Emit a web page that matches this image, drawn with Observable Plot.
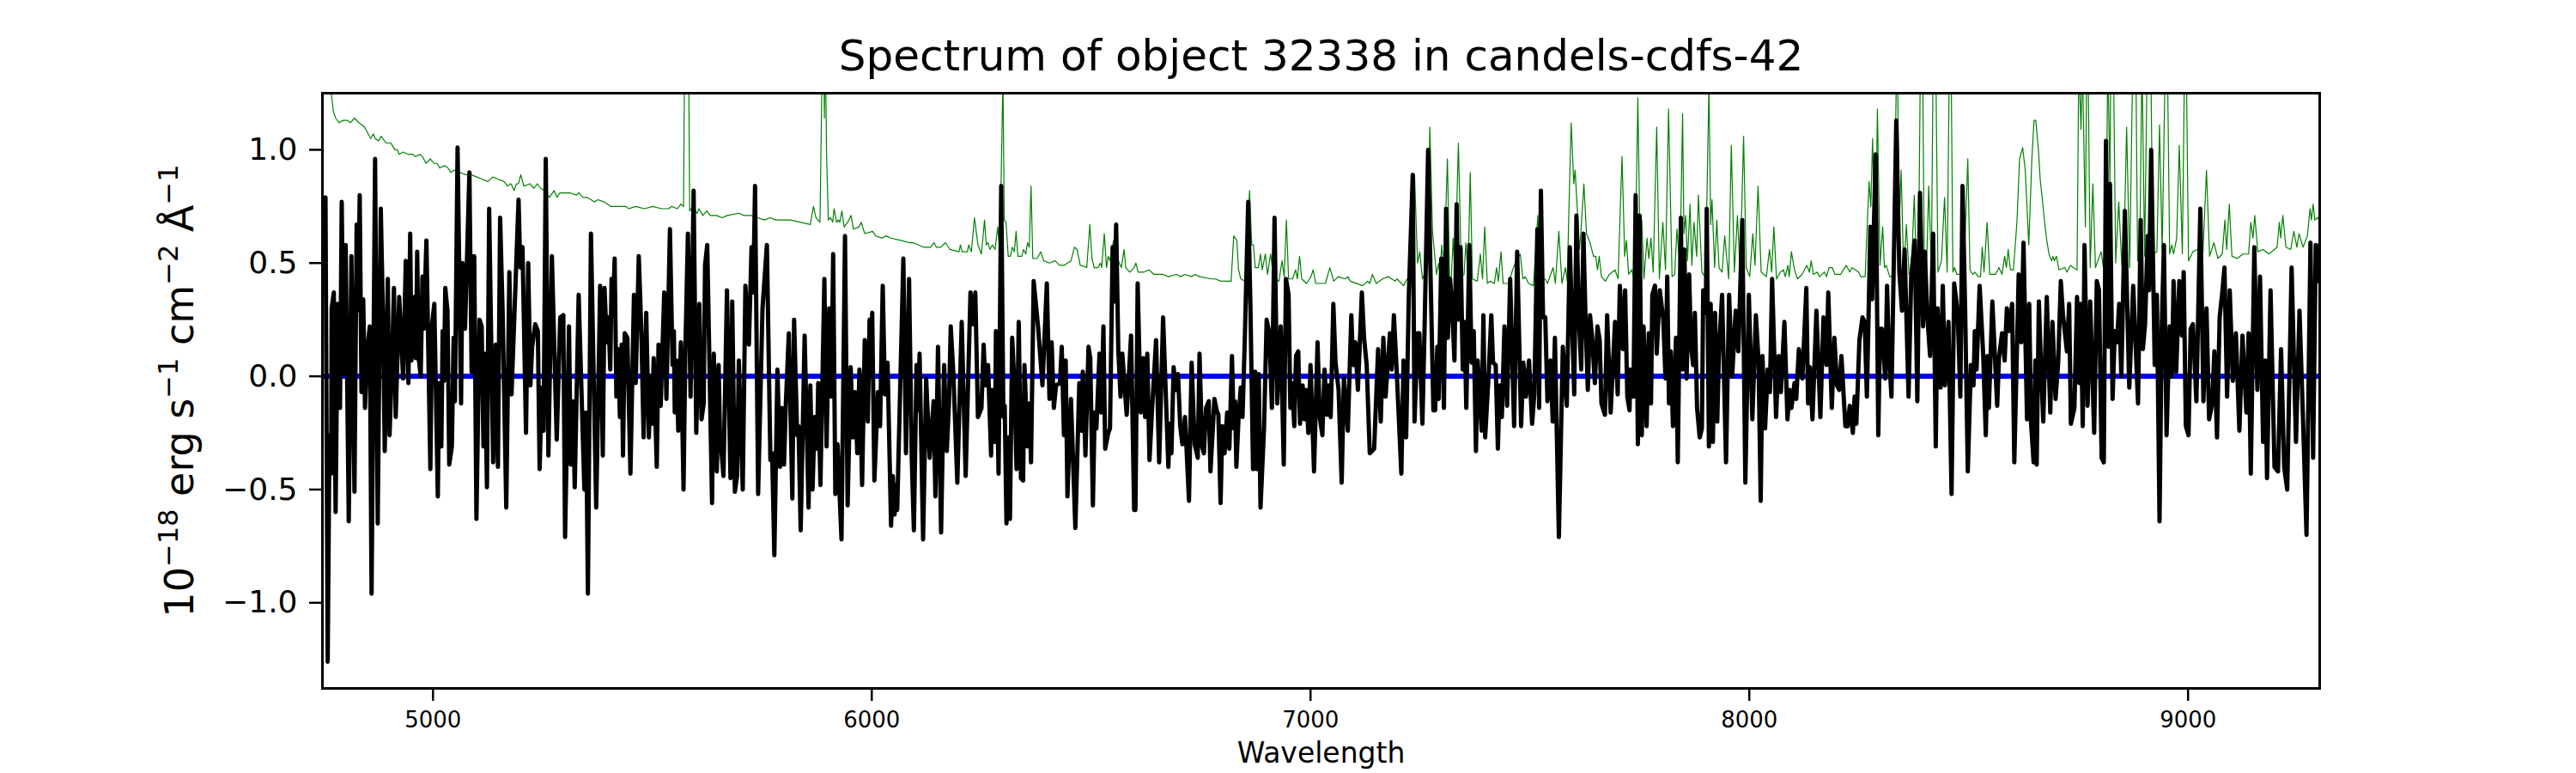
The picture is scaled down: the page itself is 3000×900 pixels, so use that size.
<!DOCTYPE html>
<html>
<head>
<meta charset="utf-8">
<script src="https://cdn.jsdelivr.net/npm/d3@7"></script>
<script src="https://cdn.jsdelivr.net/npm/@observablehq/plot@0.6"></script>
<style>
html,body{margin:0;padding:0;background:#fff}
svg{display:block}
</style>
</head>
<body>
<div id="chart"></div>
<script>
const titleText = "Spectrum of object 32338 in candels-cdfs-42";
const xLabel = "Wavelength";
const yLabelParts = [["10",0],["−18",1],[" erg s",0],["−1",1],[" cm",0],["−2",1],[" Å",0],["−1",1]];
const yLabel = yLabelParts.map(p => p[0]).join("");
const xTicks = [5000,6000,7000,8000,9000];
const yTicks = [-1,-0.5,0,0.5,1];
const modelLevel = [0];

// measured flux: [wavelength, flux]
const flux = [
[4748,.75],[4755,.79],[4760,-1.26],[4764,-.26],[4768,-.43],[4769,.30],[4774,.37],[4778,-.60],[4783,.32],[4788,-.14],[4792,.77],[4796,.01],[4801,.58],[4808,-.64],[4814,.53],[4821,-.51],[4826,.67],[4829,.29],[4833,.80],[4837,-.07],[4841,.34],[4845,-.14],[4850,.12],[4856,.22],[4860,-.96],[4868,.96],[4874,-.65],[4881,.74],[4886,.26],[4890,-.33],[4897,.43],[4901,-.26],[4906,.02],[4911,.39],[4915,-.18],[4923,.35],[4932,-.01],[4938,.51],[4944,-.03],[4948,.63],[4951,.07],[4957,.35],[4961,.08],[4964,.55],[4967,.09],[4972,0],[4976,.44],[4979,.21],[4985,.60],[4994,-.41],[4998,.23],[5003,.32],[5011,-.53],[5014,-.03],[5019,-.31],[5022,.20],[5025,-.02],[5028,.39],[5033,.29],[5037,-.39],[5043,-.31],[5047,.17],[5050,-.11],[5056,1.01],[5064,-.12],[5067,.50],[5073,.21],[5083,.90],[5088,.02],[5094,.53],[5099,-.63],[5106,.25],[5111,.22],[5115,-.31],[5118,.10],[5123,-.49],[5128,.74],[5137,-.38],[5143,.14],[5148,-.40],[5153,.70],[5159,.26],[5167,-.58],[5174,.46],[5179,-.08],[5195,.78],[5199,.48],[5204,.57],[5212,-.25],[5217,.50],[5222,-.04],[5226,.13],[5233,.23],[5239,.20],[5243,-.41],[5248,-.05],
[5252,-.24],[5257,.96],[5263,-.35],[5271,.53],[5282,-.28],[5290,.26],[5297,.27],[5301,-.71],[5310,.22],[5314,-.39],[5319,-.11],[5323,-.49],[5332,.36],[5345,-.50],[5349,-.16],[5353,-.96],[5360,.63],[5372,-.58],[5381,.40],[5387,-.35],[5391,.39],[5396,.15],[5400,.26],[5404,.03],[5407,.43],[5410,.27],[5414,.52],[5418,-.09],[5422,.12],[5426,-.18],[5430,.14],[5433,-.35],[5437,.19],[5443,.17],[5450,-.43],[5458,.36],[5462,-.03],[5469,.53],[5475,.19],[5480,-.27],[5486,.28],[5492,-.27],[5496,0],[5499,-.21],[5503,.08],[5510,-.40],[5514,.14],[5519,-.13],[5527,.37],[5532,-.10],[5540,.65],[5546,.05],[5549,.20],[5551,-.16],[5555,.07],[5559,-.24],[5565,.15],[5571,-.50],[5575,.10],[5581,.63],[5587,-.09],[5594,.82],[5600,-.25],[5607,.32],[5612,-.19],[5617,-.12],[5620,.49],[5625,.58],[5636,-.56],[5640,.10],[5647,-.42],[5651,.05],[5654,-.25],[5662,-.44],[5670,.38],[5678,-.45],[5682,.33],[5688,-.51],[5693,-.44],[5697,.07],[5706,-.50],[5712,.40],[5720,.14],[5726,.57],[5730,.37],[5734,.84],[5741,-.52],[5751,.30],
[5761,.58],[5769,-.37],[5773,-.34],[5778,-.79],[5785,.03],[5791,-.40],[5795,-.14],[5800,-.39],[5804,-.13],[5811,.19],[5819,-.54],[5823,.25],[5830,-.26],[5833,-.22],[5838,-.68],[5847,.18],[5856,-.58],[5860,-.04],[5865,-.50],[5870,-.18],[5875,-.32],[5878,-.03],[5883,-.48],[5892,.43],[5897,-.31],[5903,.30],[5908,-.09],[5912,.54],[5917,-.52],[5922,-.30],[5931,-.72],[5939,.62],[5945,-.57],[5952,.04],[5957,-.27],[5962,-.07],[5967,-.34],[5972,.03],[5978,-.48],[5984,.16],[5991,-.20],[5995,.25],[5999,.09],[6001,.28],[6006,-.46],[6014,-.07],[6019,-.22],[6025,.40],[6030,-.08],[6036,.06],[6044,-.66],[6048,-.44],[6052,-.61],[6056,-.48],[6058,-.59],[6072,.52],[6078,-.34],[6085,.43],[6091,-.35],[6096,-.68],[6102,.05],[6106,-.15],[6109,.10],[6117,-.72],[6124,-.01],[6132,-.36],[6141,-.11],[6145,-.53],[6151,.13],[6158,-.69],[6165,.05],[6171,-.33],[6176,-.12],[6180,.22],[6186,.01],[6195,-.47],[6205,.24],[6214,-.44],[6225,.37],[6231,.23],[6236,.37],[6242,-.18],[6250,-.14],[6255,.14],[6259,-.04],
[6265,.05],[6272,-.35],[6274,-.06],[6281,-.29],[6283,.20],[6289,-.43],[6295,.84],[6300,-.18],[6303,-.13],[6307,-.65],[6311,-.27],[6315,-.63],[6320,.17],[6325,-.03],[6330,-.41],[6335,.24],[6340,-.45],[6345,-.46],[6348,.05],[6355,-.31],[6359,-.12],[6363,-.38],[6369,.42],[6379,.22],[6389,-.04],[6399,.41],[6405,-.10],[6410,.15],[6415,-.14],[6420,-.04],[6429,-.03],[6433,.13],[6438,-.26],[6442,.07],[6446,-.53],[6454,-.10],[6464,-.67],[6473,-.03],[6478,-.24],[6481,.02],[6487,-.35],[6494,.13],[6498,.08],[6504,-.57],[6508,-.16],[6512,-.23],[6519,.10],[6523,-.16],[6528,.22],[6532,-.32],[6539,-.25],[6543,-.23],[6549,.57],[6553,.33],[6557,.67],[6562,.11],[6567,-.09],[6571,.10],[6581,-.17],[6591,.18],[6598,-.59],[6601,-.59],[6606,.41],[6613,-.16],[6619,.08],[6623,-.18],[6628,.10],[6633,-.37],[6639,-.14],[6648,.16],[6655,-.38],[6664,.26],[6676,-.40],[6679,-.21],[6683,-.34],[6688,.04],[6693,-.06],[6698,.01],[6703,-.22],[6708,-.30],[6714,-.18],[6723,-.55],[6729,.06],[6736,-.30],[6743,-.36],[6747,.10],[6753,-.31],[6757,-.34],[6762,-.14],[6768,-.11],[6772,-.42],
[6781,-.10],[6786,-.15],[6790,-.17],[6795,-.56],[6799,-.22],[6804,-.34],[6810,-.16],[6815,-.32],[6821,.09],[6825,-.23],[6828,-.11],[6831,-.40],[6836,-.18],[6841,-.05],[6845,-.18],[6850,.15],[6858,.77],[6863,.31],[6869,-.41],[6874,.02],[6877,-.41],[6882,.01],[6886,-.58],[6894,-.23],[6900,.25],[6906,.19],[6912,-.14],[6918,.70],[6924,-.12],[6932,.22],[6939,-.39],[6944,.43],[6950,.36],[6954,-.14],[6958,-.03],[6963,-.22],[6967,.09],[6972,.11],[6976,-.21],[6982,-.04],[6986,-.19],[6990,-.06],[6995,-.25],[7000,.05],[7008,-.42],[7016,.15],[7021,-.18],[7027,-.26],[7032,.03],[7037,-.17],[7041,-.04],[7046,-.18],[7052,.32],[7057,.06],[7064,-.06],[7071,-.47],[7076,-.01],[7085,-.24],[7093,.27],[7097,.05],[7102,.15],[7108,-.06],[7117,.37],[7122,.17],[7128,.05],[7135,-.34],[7145,-.32],[7154,.12],[7160,-.20],[7166,.17],[7171,-.09],[7181,.19],[7185,.03],[7190,.27],[7196,.04],[7207,-.43],[7212,.07],[7218,-.27],[7224,.36],[7233,.89],[7237,-.20],[7244,.19],[7248,.19],[7255,-.21],[7260,.22],[7268,1.00],[7273,.50],[7280,-.15],
[7284,-.15],[7289,.13],[7292,-.10],[7298,.52],[7304,-.14],[7309,.74],[7313,.17],[7318,.43],[7323,.30],[7328,.07],[7333,.76],[7337,.25],[7342,.57],[7347,.03],[7351,.24],[7355,-.14],[7362,.58],[7367,.06],[7372,.20],[7377,-.33],[7381,.07],[7390,-.24],[7394,.27],[7398,-.27],[7406,.01],[7412,.27],[7416,.06],[7422,.05],[7427,-.32],[7431,-.04],[7436,-.18],[7442,.22],[7448,-.13],[7455,.43],[7464,-.22],[7471,.55],[7480,-.22],[7485,.06],[7491,-.09],[7498,.07],[7505,-.21],[7510,-.08],[7517,.65],[7521,-.14],[7525,.82],[7530,.26],[7535,.26],[7540,-.11],[7547,.07],[7552,-.20],[7557,.17],[7566,-.71],[7575,.13],[7584,-.13],[7591,.57],[7601,-.08],[7606,.71],[7612,.24],[7617,.03],[7622,.63],[7627,.24],[7632,-.06],[7637,.27],[7642,.17],[7648,-.03],[7654,.22],[7659,.16],[7663,-.12],[7671,-.17],[7676,.27],[7684,-.16],[7694,.24],[7700,-.08],[7705,.40],[7712,.12],[7717,.38],[7722,-.09],[7727,-.15],[7729,.03],[7736,-.09],[7741,.80],[7746,-.30],[7750,.71],[7755,-.26],[7759,.22],[7766,-.22],[7771,.19],[7776,-.12],[7779,.36],[7785,.40],[7789,.10],
[7796,.38],[7804,.25],[7809,-.01],[7813,.44],[7817,-.12],[7821,.11],[7826,-.22],[7833,.17],[7837,-.38],[7844,.70],[7848,.03],[7852,.56],[7857,-.01],[7863,.45],[7867,.14],[7872,.05],[7876,.28],[7881,-.14],[7887,-.27],[7892,-.23],[7895,.38],[7901,.28],[7903,.74],[7908,-.31],[7912,.32],[7917,-.29],[7922,.28],[7927,-.20],[7931,.12],[7938,.36],[7947,-.38],[7954,.36],[7961,0],[7969,.29],[7975,.11],[7977,.23],[7984,.69],[7991,-.47],[7999,.36],[8007,-.19],[8015,.27],[8021,.07],[8026,-.55],[8030,.09],[8036,-.23],[8042,.03],[8047,-.07],[8052,.43],[8061,-.18],[8067,.09],[8072,-.07],[8080,.24],[8087,-.19],[8092,-.06],[8096,-.14],[8103,-.03],[8107,-.10],[8113,.12],[8121,-.01],[8130,.39],[8134,-.12],[8138,.04],[8144,-.19],[8153,.29],[8162,-.18],[8169,.26],[8176,.05],[8180,.37],[8188,-.14],[8194,.17],[8200,-.04],[8205,-.06],[8210,.09],[8219,-.22],[8224,-.22],[8229,-.13],[8236,-.25],[8240,-.09],[8244,-.21],[8251,.16],[8258,.26],[8263,.24],[8268,-.09],[8276,.66],[8280,.34],[8288,.98],[8294,-.26],[8298,.21],
[8302,.21],[8310,-.01],[8314,.40],[8318,.11],[8324,-.09],[8335,1.13],[8342,.46],[8348,.29],[8354,.56],[8363,-.09],[8369,.44],[8377,.60],[8383,-.11],[8389,.81],[8396,.22],[8400,.55],[8406,.26],[8412,.09],[8419,.63],[8425,-.31],[8429,.30],[8436,-.05],[8441,.40],[8446,-.04],[8454,.24],[8461,-.52],[8467,.41],[8475,.28],[8481,-.09],[8486,.84],[8492,.29],[8498,-.42],[8505,.05],[8511,-.04],[8514,.20],[8518,.03],[8525,.40],[8533,.10],[8539,-.26],[8543,.09],[8546,-.14],[8554,.33],[8565,-.13],[8569,.08],[8576,.19],[8582,.07],[8587,.30],[8592,.20],[8599,.32],[8604,-.38],[8614,.45],[8620,.15],[8625,.59],[8633,-.19],[8638,.32],[8642,-.20],[8648,-.38],[8652,.07],[8655,-.39],[8660,.33],[8665,.04],[8670,-.20],[8678,.35],[8686,-.16],[8691,.24],[8698,-.10],[8704,.06],[8710,.42],[8715,.27],[8724,.11],[8729,.32],[8733,-.21],[8741,-.14],[8747,.35],[8752,-.03],[8755,.32],[8760,-.22],[8764,.58],[8771,-.13],[8777,.33],[8786,-.25],[8792,.42],[8797,.38],[8803,-.36],[8808,-.38],
[8813,1.04],[8819,.13],[8822,.85],[8828,-.10],[8833,.20],[8838,.15],[8843,.32],[8848,0],[8856,.73],[8866,-.05],[8875,.40],[8886,-.12],[8892,.69],[8897,.12],[8902,.23],[8908,.62],[8911,.38],[8916,1.00],[8924,.05],[8929,.36],[8935,-.64],[8940,.21],[8945,.58],[8951,-.26],[8958,.22],[8963,0],[8967,.42],[8973,.02],[8980,.42],[8986,.18],[8990,.46],[8995,-.22],[9001,-.26],[9006,.21],[9011,.23],[9019,-.11],[9028,.74],[9035,-.11],[9042,.30],[9048,-.19],[9055,-.12],[9060,.11],[9066,-.27],[9072,.26],[9078,.37],[9083,.48],[9089,-.09],[9095,.38],[9102,-.02],[9109,.19],[9117,-.24],[9124,.18],[9133,-.16],[9138,.19],[9143,-.43],[9151,.57],[9158,-.06],[9164,.44],[9171,-.29],[9176,.07],[9180,-.45],[9188,.38],[9197,-.40],[9205,-.42],[9212,.12],[9219,-.40],[9226,-.50],[9236,.48],[9246,-.29],[9254,.29],[9262,-.19],[9270,-.70],[9279,.59],[9285,-.36],[9291,.58],[9295,.42],[9300,.58]
];

// error spectrum: [wavelength, sigma]
const sigma = [
[4750,1.9],[4762,1.6],[4768,1.25],[4773,1.17],[4778,1.14],[4786,1.12],[4795,1.13],[4805,1.13],[4812,1.12],[4821,1.14],[4831,1.12],[4844,1.10],[4858,1.05],[4864,1.07],[4868,1.05],[4876,1.04],[4882,1.06],[4893,1.03],[4904,1.03],[4913,1.00],[4919,1.00],[4923,.98],[4932,.99],[4944,.98],[4954,.98],[4960,.97],[4970,.98],[4976,.97],[4984,.94],[4994,.96],[5002,.94],[5009,.94],[5015,.92],[5027,.93],[5034,.92],[5041,.90],[5048,.91],[5061,.90],[5074,.89],[5087,.89],[5100,.88],[5113,.87],[5125,.86],[5136,.88],[5149,.87],[5162,.86],[5170,.84],[5176,.85],[5178,.85],[5185,.82],[5190,.85],[5195,.85],[5200,.89],[5207,.84],[5221,.85],[5230,.83],[5238,.85],[5245,.83],[5255,.82],
[5265,.79],[5276,.82],[5283,.79],[5289,.81],[5312,.81],[5327,.80],[5332,.81],[5342,.79],[5351,.79],[5368,.77],[5376,.78],[5390,.77],[5405,.75],[5423,.75],[5440,.75],[5446,.74],[5462,.75],[5482,.74],[5501,.75],[5521,.74],[5537,.74],[5544,.75],[5557,.74],[5565,.76],[5571,.75],[5573,1.3],[5578,2.5],[5583,1.3],[5585,.73],[5589,.74],[5593,.74],[5602,.72],[5606,.74],[5615,.71],[5624,.73],[5632,.71],[5646,.71],[5659,.70],[5671,.71],[5697,.72],[5709,.71],[5726,.71],[5739,.70],[5756,.69],
[5768,.70],[5782,.69],[5789,.69],[5815,.69],[5838,.68],[5860,.67],[5867,.75],[5873,.70],[5882,.68],[5886,1.25],[5890,1.6],[5892,1.14],[5894,1.5],[5897,.98],[5901,.69],[5906,.70],[5911,.68],[5914,.74],[5920,.68],[5924,.69],[5927,.68],[5932,.73],[5937,.66],[5945,.68],[5953,.71],[5958,.65],[5971,.66],[5976,.68],[5984,.63],[6002,.64],[6009,.62],[6023,.61],[6033,.62],[6043,.61],[6066,.60],[6085,.59],[6095,.59],[6118,.57],[6134,.57],[6142,.59],[6147,.57],[6157,.57],[6168,.59],[6178,.56],[6199,.55],[6202,.58],[6206,.55],[6218,.55],[6221,.58],[6227,.55],[6234,.70],[6242,.58],[6250,.54],[6257,.69],[6261,.58],
[6265,.59],[6269,.56],[6275,.58],[6281,.56],[6287,.66],[6291,.57],[6295,.88],[6299,1.32],[6302,.69],[6306,.68],[6311,.53],[6316,.53],[6320,.57],[6325,.55],[6329,.64],[6333,.53],[6342,.53],[6346,.56],[6351,.54],[6355,.59],[6359,.57],[6363,.84],[6367,.52],[6376,.52],[6380,.53],[6385,.55],[6392,.51],[6405,.50],[6418,.51],[6428,.49],[6438,.49],[6454,.51],[6462,.57],[6468,.56],[6475,.49],[6490,.48],[6497,.67],[6502,.52],[6507,.48],[6516,.48],[6521,.50],[6524,.48],[6530,.63],[6535,.48],[6539,.53],[6543,.51],[6551,.60],[6556,.50],[6562,.51],[6569,.48],[6575,.56],[6579,.48],[6588,.46],[6598,.48],[6602,.50],[6607,.46],[6620,.46],[6632,.47],[6643,.45],[6664,.45],[6676,.44],[6695,.45],[6703,.44],[6714,.45],[6729,.44],[6737,.45],[6747,.44],[6774,.43],
[6783,.43],[6796,.42],[6819,.42],[6825,.62],[6832,.60],[6836,.47],[6841,.43],[6851,.42],[6856,.58],[6861,.82],[6866,.58],[6870,.58],[6874,.48],[6881,.48],[6886,.54],[6890,.47],[6897,.54],[6902,.45],[6909,.54],[6915,.45],[6920,.43],[6928,.42],[6935,.51],[6940,.44],[6945,.69],[6950,.43],[6959,.43],[6966,.47],[6970,.43],[6975,.53],[6980,.43],[6991,.41],[7001,.44],[7006,.47],[7012,.41],[7027,.41],[7034,.41],[7044,.48],[7053,.42],[7063,.44],[7079,.43],[7085,.44],[7091,.42],[7119,.40],[7130,.42],[7135,.41],[7141,.45],[7150,.41],[7164,.43],[7177,.44],[7185,.43],[7193,.42],[7197,.43],[7212,.40],[7220,.43],[7225,.42],[7229,.42],[7237,.89],[7244,.50],[7249,.55],[7255,.43],[7262,.46],[7267,.61],[7272,1.10],[7278,.64],
[7287,.45],[7292,.50],[7295,.45],[7299,.58],[7304,.46],[7312,.96],[7317,.43],[7321,.44],[7325,.61],[7329,.43],[7337,1.03],[7344,.44],[7350,.45],[7354,.59],[7359,.44],[7364,.90],[7369,.43],[7380,.42],[7387,.54],[7392,.43],[7397,.66],[7403,.41],[7409,.42],[7419,.41],[7424,.48],[7428,.42],[7434,.55],[7439,.41],[7452,.41],[7459,.46],[7468,.51],[7478,.54],[7484,.43],[7489,.44],[7497,.41],[7508,.40],[7518,.71],[7525,.43],[7535,.43],[7540,.41],[7553,.48],[7558,.41],[7566,.64],[7573,.41],[7581,.48],[7585,.42],[7589,.74],[7594,1.12],[7600,.85],[7603,.91],[7608,.74],[7613,.56],[7617,.66],[7623,.85],[7629,.63],[7637,.59],[7645,.53],[7650,.53],[7654,.47],[7658,.53],[7663,.44],[7672,.42],[7681,.45],[7694,.47],[7701,.43],[7706,.74],[7710,.97],[7716,.53],[7720,.60],[7725,.45],[7732,.47],[7736,.44],[7742,.74],[7746,1.23],[7750,.71],[7755,.69],[7760,.43],[7767,.61],[7771,.52],[7776,.61],[7781,.46],[7789,1.10],
[7795,.43],[7803,.68],[7809,.47],[7816,1.18],[7824,.44],[7830,.45],[7835,.65],[7842,.47],[7848,1.16],[7851,.63],[7855,.71],[7859,.51],[7865,.76],[7869,.49],[7874,.68],[7880,.53],[7884,.80],[7892,.46],[7899,.44],[7903,.74],[7908,1.28],[7912,.67],[7915,.78],[7921,.48],[7926,.69],[7931,.48],[7938,.46],[7944,.62],[7953,.43],[7959,1.02],[7966,.46],[7973,.71],[7979,.46],[7987,1.06],[7993,.48],[8001,.44],[8008,.63],[8013,.49],[8020,.84],[8027,.46],[8039,.44],[8046,.56],[8051,.46],[8056,.66],[8062,.43],[8071,.46],[8078,.47],[8082,.44],[8088,.49],[8091,.44],[8096,.55],[8103,.47],[8110,.43],[8120,.45],[8131,.49],[8137,.46],[8141,.51],[8146,.45],[8155,.46],[8160,.44],[8171,.46],[8176,.44],[8182,.48],[8189,.48],[8195,.45],[8208,.45],[8221,.49],[8229,.46],[8234,.48],[8242,.47],[8249,.46],[8254,.44],[8264,.44],[8273,.86],[8277,.75],[8281,1.05],[8287,.49],[8292,1.18],[8298,.49],
[8304,.66],[8308,.48],[8312,.49],[8320,.44],[8325,.44],[8329,.51],[8335,1.3],[8338,1.3],[8342,.68],[8346,.91],[8352,.46],[8358,.67],[8364,.45],[8369,.45],[8376,.80],[8381,.46],[8386,.58],[8390,1.4],[8395,1.4],[8399,.46],[8404,.48],[8409,.84],[8415,.47],[8419,1.4],[8425,1.4],[8430,.46],[8438,.51],[8445,.79],[8451,.46],[8456,1.4],[8460,1.4],[8464,.46],[8468,.48],[8473,.45],[8489,.45],[8498,.96],[8503,.47],[8509,.45],[8514,.46],[8522,.44],[8527,.44],[8531,.57],[8535,.46],[8542,.68],[8548,.45],[8561,.45],[8569,.48],[8576,.45],[8582,.53],[8586,.48],[8590,.56],[8595,.47],[8602,.47],[8610,.68],[8616,.96],[8623,1.01],[8629,.91],[8637,.58],[8644,.96],[8649,1.13],[8653,1.13],[8659,1.00],[8663,.87],[8668,.78],[8673,.68],[8678,.60],[8683,.54],[8689,.51],[8692,.53],[8695,.51],[8700,.53],[8706,.47],[8719,.48],[8724,.46],[8732,.49],[8738,.48],[8747,.47],[8751,1.4],[8756,1.09],[8759,1.4],[8766,.66],[8769,1.4],[8772,1.4],[8777,.48],[8783,.85],[8789,.48],[8802,.55],
[8807,.48],[8813,.60],[8817,1.4],[8822,.86],[8824,1.4],[8830,1.4],[8835,.50],[8842,.77],[8849,.49],[8854,.57],[8860,1.10],[8867,.48],[8874,1.4],[8881,1.4],[8885,.51],[8890,.57],[8895,1.4],[8901,.53],[8907,1.4],[8915,1.4],[8920,.54],[8929,.55],[8935,1.11],[8941,.55],[8948,1.4],[8953,1.4],[8958,.54],[8963,.58],[8967,.54],[8974,.61],[8980,1.02],[8987,.54],[8992,1.4],[8996,1.4],[9001,.51],[9011,.55],[9021,.56],[9034,.55],[9042,.91],[9049,.53],[9059,.59],[9068,.52],[9078,.54],[9084,.69],[9088,.56],[9094,.76],[9100,.53],[9112,.52],[9125,.54],[9138,.54],[9143,.68],[9148,.61],[9152,.71],[9159,.55],[9171,.56],[9184,.54],[9197,.56],[9203,.57],[9208,.68],[9211,.61],[9216,.71],[9223,.57],[9234,.56],[9241,.64],[9248,.57],[9253,.63],[9262,.57],[9272,.62],[9278,.74],[9281,.69],[9285,.76],[9289,.69],[9295,.70],[9300,.69]
];

const chart = Plot.plot({
  width: 3000,
  height: 900,
  marginTop: 108,
  marginBottom: 99,
  marginLeft: 375,
  marginRight: 299,
  style: {fontFamily: "'DejaVu Sans'", background: "#fff", color: "#000", overflow: "visible"},
  x: {domain: [4748, 9300], label: null},
  y: {domain: [-1.378, 1.25], label: null},
  marks: [
    Plot.line(sigma, {x: d => d[0], y: d => d[1], stroke: "#008000", strokeWidth: 1.2, clip: true}),
    Plot.ruleY(modelLevel, {stroke: "#0000ff", strokeWidth: 6}),
    Plot.line(flux, {x: d => d[0], y: d => d[1], stroke: "#000", strokeWidth: 5, clip: true}),
    Plot.frame({stroke: "#000", strokeWidth: 3}),
    Plot.axisX({ticks: xTicks, tickFormat: d => String(d), tickSize: 15, tickPadding: 12, fontSize: 26, strokeWidth: 2.5, label: null}),
    Plot.axisY({ticks: yTicks, tickFormat: d3.format(".1f"), tickSize: 15, tickPadding: 14, fontSize: 36, strokeWidth: 2.5, label: null}),
    Plot.text([titleText], {frameAnchor: "top", dy: -62, fontSize: 50, fill: "#000"}),
    Plot.text([xLabel], {frameAnchor: "bottom", dy: 86, fontSize: 33, fill: "#000"}),
    Plot.text([yLabel], {frameAnchor: "left", textAnchor: "middle", dx: -165, rotate: -90, fontSize: 46, fill: "#000"})
  ]
});
// typeset the unit label with true superscripts, as the original does
const yText = Array.from(chart.querySelectorAll("text")).find(t => t.textContent === yLabel);
if (yText) {
  yText.textContent = "";
  yLabelParts.forEach(([str, sup], i) => {
    const prevSup = i > 0 && yLabelParts[i - 1][1];
    const t = document.createElementNS("http://www.w3.org/2000/svg", "tspan");
    t.textContent = str;
    t.style.whiteSpace = "pre";
    if (sup) { t.setAttribute("font-size", 32); t.setAttribute("dy", -18); }
    else if (prevSup) { t.setAttribute("dy", 18); }
    yText.appendChild(t);
  });
}
document.getElementById("chart").appendChild(chart);
</script>
</body>
</html>
